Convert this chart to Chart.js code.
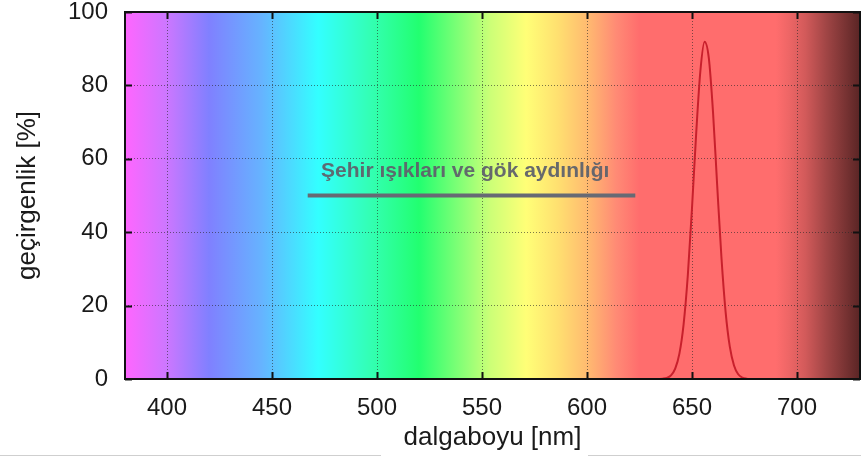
<!DOCTYPE html>
<html>
<head>
<meta charset="utf-8">
<script src="https://cdn.jsdelivr.net/npm/chart.js@4.4.0/dist/chart.umd.min.js"></script>
<style>
  html, body { margin: 0; padding: 0; background: #ffffff; }
  #wrap { width: 861px; height: 466px; position: relative; }
</style>
</head>
<body>
<div id="wrap"><canvas id="c" width="861" height="466"></canvas></div>
<script>
// H-alpha filter transmission curve (wavelength in nm, transmission in %)
const wavelengthNm = [634, 636, 638, 640, 642, 644, 646, 648, 650, 652, 654, 656,
                      658, 660, 662, 664, 666, 668, 670, 672, 674, 676, 678];
const transmissionPct = [0, 0.08, 0.3, 0.97, 2.8, 6.9, 14.9, 28.2, 46.6, 67.0, 84.0, 91.9,
                         87.5, 72.8, 52.7, 33.3, 18.3, 8.8, 3.7, 1.3, 0.4, 0.1, 0];

// Band covered by city lights and sky glow
const cityLightRange = [467, 623];
const cityLightLevel = [50, 50];
const cityLightLabel = 'Şehir ışıkları ve gök aydınlığı';
const cityLightLabelAt = [542, 55];

// Axis ticks
const xTicks = [400, 450, 500, 550, 600, 650, 700];
const yTicks = [0, 20, 40, 60, 80, 100];

// Visible spectrum colours behind the plot (nm, colour)
const spectrumStops = [
  [380, '#ff66ff'], [400, '#cc77ff'], [420, '#8080ff'], [445, '#66b3ff'],
  [472, '#33ffff'], [497, '#33ffb3'], [520, '#22ff70'], [544, '#99ff77'],
  [554, '#ccff77'], [571, '#ffff77'], [586, '#ffe070'], [600, '#ffbb70'],
  [614, '#ff8a75'], [625, '#ff6d6d'], [690, '#ff6d6d'], [696, '#ee6666'],
  [704, '#d25a5a'], [714, '#a04545'], [730, '#5a2525']
];

const FONT = '"Liberation Sans", Arial, Helvetica, sans-serif';

const spectrumBackground = {
  id: 'spectrumBackground',
  beforeDraw(chart) {
    const { ctx, chartArea: a, scales: { x } } = chart;
    const x0 = x.getPixelForValue(x.min);
    const x1 = x.getPixelForValue(x.max);
    const g = ctx.createLinearGradient(x0, 0, x1, 0);
    spectrumStops.forEach(([nm, col]) => {
      const t = (x.getPixelForValue(nm) - x0) / (x1 - x0);
      g.addColorStop(Math.min(1, Math.max(0, t)), col);
    });
    ctx.save();
    ctx.fillStyle = g;
    ctx.fillRect(a.left, a.top, a.right - a.left, a.bottom - a.top);
    ctx.restore();
  }
};

const frameAndTicks = {
  id: 'frameAndTicks',
  afterDatasetsDraw(chart) {
    const { ctx, chartArea: a, scales: { x, y } } = chart;
    const len = 7;
    ctx.save();
    ctx.strokeStyle = '#111111';
    ctx.lineWidth = 2;
    ctx.beginPath();
    xTicks.forEach(v => {
      const px = Math.round(x.getPixelForValue(v)) + 0.5;
      ctx.moveTo(px, a.bottom); ctx.lineTo(px, a.bottom - len);
      ctx.moveTo(px, a.top); ctx.lineTo(px, a.top + len);
    });
    yTicks.forEach(v => {
      const py = Math.round(y.getPixelForValue(v)) + 0.5;
      ctx.moveTo(a.left, py); ctx.lineTo(a.left + len, py);
      ctx.moveTo(a.right, py); ctx.lineTo(a.right - len, py);
    });
    ctx.stroke();
    ctx.strokeRect(a.left, a.top, a.right - a.left, a.bottom - a.top);
    ctx.restore();
  },
  afterDraw(chart) {
    const { ctx, scales: { x, y } } = chart;
    ctx.save();
    ctx.font = 'bold 21px ' + FONT;
    ctx.fillStyle = 'rgba(95,98,108,0.95)';
    ctx.textAlign = 'center';
    ctx.textBaseline = 'alphabetic';
    ctx.fillText(cityLightLabel, x.getPixelForValue(cityLightLabelAt[0]), y.getPixelForValue(cityLightLabelAt[1]));
    // thin separator rule along the bottom edge
    ctx.strokeStyle = '#cfcfcf';
    ctx.lineWidth = 1;
    ctx.beginPath();
    ctx.moveTo(0, 455.5); ctx.lineTo(381, 455.5);
    ctx.moveTo(588, 455.5); ctx.lineTo(861, 455.5);
    ctx.stroke();
    ctx.restore();
  }
};

const gridStyle = {
  color: 'rgba(40,40,40,0.6)',
  lineWidth: 1,
  drawTicks: false
};

new Chart(document.getElementById('c'), {
  type: 'line',
  data: {
    datasets: [
      {
        data: wavelengthNm.map((w, i) => ({ x: w, y: transmissionPct[i] })),
        borderColor: '#c8202c',
        borderWidth: 2,
        pointRadius: 0,
        cubicInterpolationMode: 'monotone',
        fill: false
      },
      {
        data: cityLightRange.map((w, i) => ({ x: w, y: cityLightLevel[i] })),
        borderColor: '#676a74',
        borderWidth: 4,
        pointRadius: 0,
        fill: false
      }
    ]
  },
  options: {
    responsive: false,
    animation: false,
    devicePixelRatio: 1,
    layout: { padding: { top: 12, right: 1, left: 0, bottom: 0 } },
    plugins: { legend: { display: false }, tooltip: { enabled: false } },
    scales: {
      x: {
        type: 'linear',
        min: 380,
        max: 730,
        afterBuildTicks(scale) { scale.ticks = xTicks.map(v => ({ value: v })); },
        afterFit(scale) { scale.height = 87; scale.paddingLeft = 0; scale.paddingRight = 0; },
        grid: gridStyle,
        border: { display: false, dash: [1, 2] },
        ticks: { color: '#1a1a1a', padding: 15, maxRotation: 0, font: { family: FONT, size: 24 } },
        title: {
          display: true, text: 'dalgaboyu [nm]', color: '#1a1a1a',
          padding: { top: 0, bottom: 13 }, font: { family: FONT, size: 26 }
        }
      },
      y: {
        min: 0,
        max: 100,
        afterBuildTicks(scale) { scale.ticks = yTicks.map(v => ({ value: v })); },
        afterFit(scale) { scale.width = 125; scale.paddingTop = 0; scale.paddingBottom = 0; },
        grid: gridStyle,
        border: { display: false, dash: [1, 2] },
        ticks: { color: '#1a1a1a', padding: 17, font: { family: FONT, size: 24 } },
        title: {
          display: true, text: 'geçirgenlik [%]', color: '#1a1a1a',
          padding: { top: 12, bottom: 0 }, font: { family: FONT, size: 26 }
        }
      }
    }
  },
  plugins: [spectrumBackground, frameAndTicks]
});
</script>
</body>
</html>
